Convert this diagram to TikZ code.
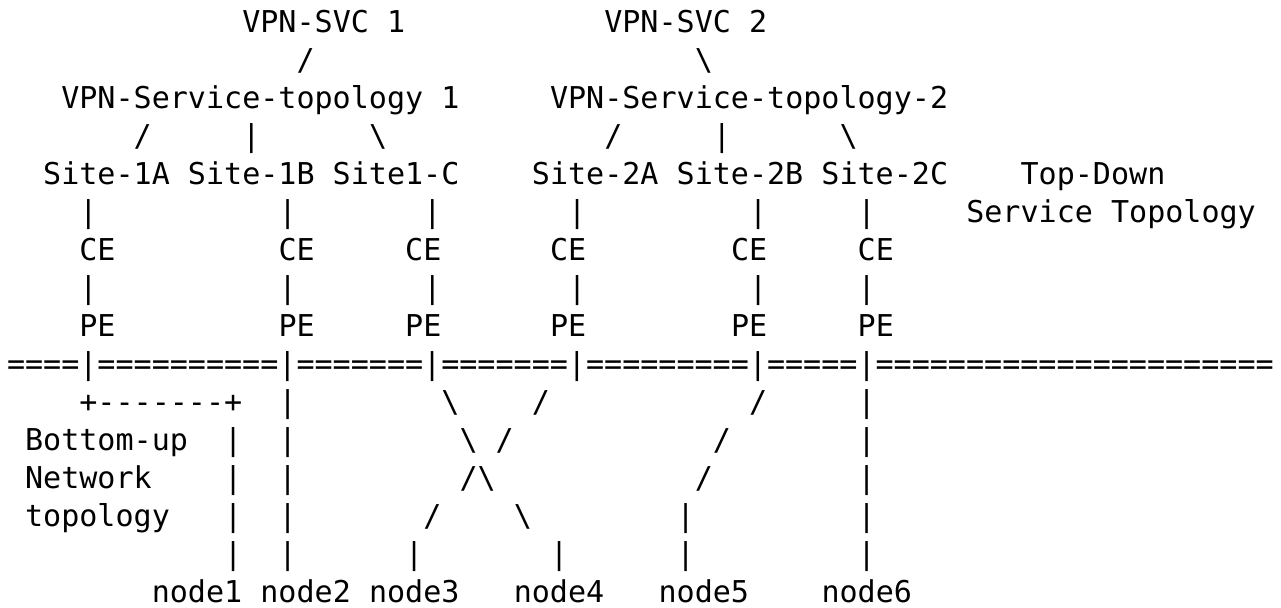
\documentclass[tikz,border=0pt]{standalone}
\usepackage{fontspec}
\setmonofont{DejaVu Sans Mono}
\newcounter{asc}
\newcommand\asc[3]{\stepcounter{asc}\node[ch] (a\theasc) at (#2,#1-1) {#3};}
\newcommand\bs{\textbackslash}
\begin{document}
\begin{tikzpicture}[x=9.05pt,y=-19pt,
  ch/.style={anchor=base west,inner sep=0pt,outer sep=0pt,
    font=\ttfamily\fontsize{15.03pt}{19pt}\selectfont}]
\useasboundingbox (0pt,0pt) rectangle (640.5pt,-303.5pt);
\begin{scope}[shift={(3.5pt,-16pt)}]
% row 1-5 : service topology
\asc{1}{13}{VPN-SVC 1}
\asc{1}{33}{VPN-SVC 2}
\asc{2}{16}{/}
\asc{2}{38}{\bs}
\asc{3}{3}{VPN-Service-topology 1}
\asc{3}{30}{VPN-Service-topology-2}
\asc{4}{7}{/}\asc{4}{13}{|}\asc{4}{20}{\bs}
\asc{4}{33}{/}\asc{4}{39}{|}\asc{4}{46}{\bs}
\asc{5}{2}{Site-1A Site-1B Site1-C}
\asc{5}{29}{Site-2A Site-2B Site-2C}
\asc{5}{56}{Top-Down}
% rows 6-9
\foreach \c in {4,15,23,31,41,47}{\asc{6}{\c}{|}}
\asc{6}{53}{Service Topology}
\foreach \c in {4,15,22,30,40,47}{\asc{7}{\c}{CE}}
\foreach \c in {4,15,23,31,41,47}{\asc{8}{\c}{|}}
\foreach \c in {4,15,22,30,40,47}{\asc{9}{\c}{PE}}
% row 10
\asc{10}{0}{====|==========|=======|=======|=========|=====|======================}
% rows 11-16 : network topology
\asc{11}{4}{+-------+}\asc{11}{15}{|}\asc{11}{24}{\bs}\asc{11}{29}{/}\asc{11}{41}{/}\asc{11}{47}{|}
\asc{12}{1}{Bottom-up}\asc{12}{12}{|}\asc{12}{15}{|}\asc{12}{25}{\bs}\asc{12}{27}{/}\asc{12}{39}{/}\asc{12}{47}{|}
\asc{13}{1}{Network}\asc{13}{12}{|}\asc{13}{15}{|}\asc{13}{25}{/\bs}\asc{13}{38}{/}\asc{13}{47}{|}
\asc{14}{1}{topology}\asc{14}{12}{|}\asc{14}{15}{|}\asc{14}{23}{/}\asc{14}{28}{\bs}\asc{14}{37}{|}\asc{14}{47}{|}
\foreach \c in {12,15,22,30,37,47}{\asc{15}{\c}{|}}
\asc{16}{8}{node1}\asc{16}{14}{node2}\asc{16}{20}{node3}
\asc{16}{28}{node4}\asc{16}{36}{node5}\asc{16}{45}{node6}
\end{scope}
\end{tikzpicture}
\end{document}
